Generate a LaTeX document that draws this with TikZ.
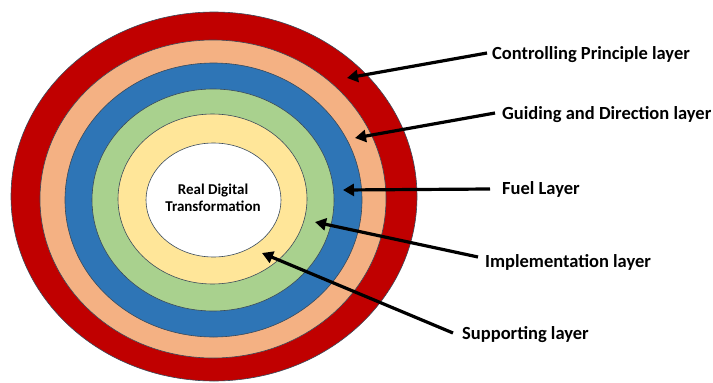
\documentclass[tikz,border=0pt]{standalone}
\usepackage{fontspec}
\setmainfont{Carlito}
\usetikzlibrary{arrows.meta}
\definecolor{cred}{HTML}{C00000}
\definecolor{cpeach}{HTML}{F4B183}
\definecolor{cblue}{HTML}{2E75B6}
\definecolor{cgreen}{HTML}{A9D18E}
\definecolor{cyellow}{HTML}{FFE699}
\definecolor{cedge}{HTML}{3A4A5A}
\tikzset{
  ring/.style={draw=cedge, line width=0.6pt},
  lbl/.style={anchor=west, inner sep=0pt, font=\fontsize{18.5}{22}\selectfont\bfseries},
  arr/.style={line width=3.2pt, -{Triangle[length=11pt,width=12pt]}},
}
\begin{document}
\begin{tikzpicture}[x=1pt,y=-1pt]
\useasboundingbox (0,0) rectangle (713,383);
\fill[white] (0,0) rectangle (713,383);
% rings
\draw[ring, fill=cred] (214,196.5) ellipse [x radius=203, y radius=184.5];
\draw[ring, fill=cpeach] (213,199) ellipse [x radius=173, y radius=159];
\draw[ring, fill=cblue] (213.5,200) ellipse [x radius=148.5, y radius=137];
\draw[ring, fill=cgreen] (213,200) ellipse [x radius=121, y radius=111];
\draw[ring, fill=cyellow] (212.5,199) ellipse [x radius=94.5, y radius=85];
\draw[ring, fill=white] (213.5,200) ellipse [x radius=67.5, y radius=57];
\node[align=center, font=\fontsize{15}{17}\selectfont\bfseries] (core) at (213,197.5) {Real Digital\\Transformation};
% labels
\node[lbl] (l1) at (492,55) {Controlling Principle layer};
\node[lbl] (l2) at (502,115) {Guiding and Direction layer};
\node[lbl] (l3) at (502,189) {Fuel Layer};
\node[lbl] (l4) at (485,262) {Implementation layer};
\node[lbl] (l5) at (462,335) {Supporting layer};
% arrow tips
\coordinate (t1) at (347,78);
\coordinate (t2) at (355,138);
\coordinate (t3) at (343,190);
\coordinate (t4) at (315,222);
\coordinate (t5) at (262,253);
\draw[arr] ([shift={(-5pt,2pt)}]l1.west) -- (t1);
\draw[arr] ([shift={(-7pt,2pt)}]l2.west) -- (t2);
\draw[arr] ([shift={(-12pt,0pt)}]l3.west) -- (t3);
\draw[arr] ([shift={(-7pt,5pt)}]l4.west) -- (t4);
\draw[arr] ([shift={(-9pt,2pt)}]l5.west) -- (t5);
\end{tikzpicture}
\end{document}
